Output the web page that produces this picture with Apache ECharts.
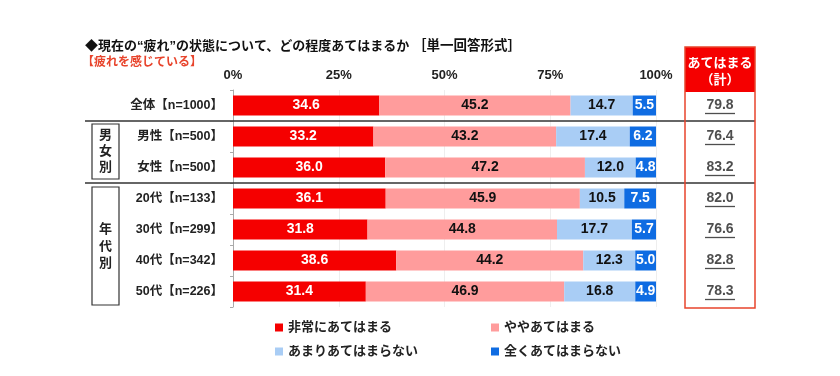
<!DOCTYPE html>
<html>
<head>
<meta charset="utf-8">
<script src="https://cdn.jsdelivr.net/npm/echarts@6/dist/echarts.min.js"></script>
<style>
  html, body { margin: 0; padding: 0; background: #fff; }
  #chart { width: 840px; height: 376px; }
</style>
</head>
<body>
<div id="chart"></div>
<script>
// 回答者区分
const categories = ['全体【n=1000】', '男性【n=500】', '女性【n=500】', '20代【n=133】', '30代【n=299】', '40代【n=342】', '50代【n=226】'];
const seriesNames = ['非常にあてはまる', 'ややあてはまる', 'あまりあてはまらない', '全くあてはまらない'];
const veryMuch = [34.6, 33.2, 36.0, 36.1, 31.8, 38.6, 31.4];
const somewhat = [45.2, 43.2, 47.2, 45.9, 44.8, 44.2, 46.9];
const notMuch = [14.7, 17.4, 12.0, 10.5, 17.7, 12.3, 16.8];
const notAtAll = [5.5, 6.2, 4.8, 7.5, 5.7, 5.0, 4.9];
const totals = [79.8, 76.4, 83.2, 82.0, 76.6, 82.8, 78.3];
const xTicks = ['0%', '25%', '50%', '75%', '100%'];

const colors = ['#F50000', '#FF9C9C', '#A9CDF5', '#0F6CE2'];
const labelColors = ['#fff', '#111', '#111', '#fff'];
const FONT = 'Liberation Sans, "Noto Sans CJK JP", sans-serif';

const chart = echarts.init(document.getElementById('chart'));

const values = [veryMuch, somewhat, notMuch, notAtAll];
const barSeries = values.map((arr, i) => ({
  name: seriesNames[i],
  type: 'bar',
  stack: 'all',
  barWidth: 20,
  data: arr,
  itemStyle: { color: colors[i] },
  label: {
    show: true,
    position: 'inside',
    color: labelColors[i],
    fontSize: 14,
    fontWeight: 'bold',
    fontFamily: FONT,
    formatter: p => p.value.toFixed(1)
  },
  emphasis: { disabled: true }
}));

const legendPos = [[270, 316], [486, 316], [270, 340], [486, 340]];

const option = {
  animation: false,
  textStyle: { fontFamily: FONT },
  title: [
    { text: '◆現在の“疲れ”の状態について、どの程度あてはまるか', left: 80, top: 35,
      textStyle: { fontSize: 13, fontWeight: 'bold', color: '#111', fontFamily: FONT } },
    { text: '［単一回答形式］', left: 408, top: 35,
      textStyle: { fontSize: 13.5, fontWeight: 'bold', color: '#111', fontFamily: FONT } },
    { text: '【疲れを感じている】', left: 77, top: 52,
      textStyle: { fontSize: 12, fontWeight: 'bold', color: '#E8442C', fontFamily: FONT } }
  ],
  legend: seriesNames.map((n, i) => ({
    data: [n],
    left: legendPos[i][0],
    top: legendPos[i][1],
    itemWidth: 8,
    itemHeight: 8,
    icon: 'rect',
    selectedMode: false,
    textStyle: { fontSize: 13, fontWeight: 'bold', color: '#222', fontFamily: FONT }
  })),
  grid: [
    { left: 233, right: 184, top: 90, height: 217 },
    { left: 685, width: 70, top: 90, height: 217 }
  ],
  xAxis: [
    {
      type: 'value',
      position: 'top',
      min: 0,
      max: 100,
      interval: 25,
      axisLabel: {
        formatter: v => xTicks[v / 25],
        fontSize: 13,
        fontWeight: 'bold',
        color: '#222',
        margin: 8
      },
      axisLine: { show: false },
      axisTick: { show: false },
      splitLine: { show: true, lineStyle: { color: '#eeeeee' } }
    },
    { gridIndex: 1, type: 'value', min: -1, max: 1, show: false }
  ],
  yAxis: [
    {
      type: 'category',
      data: categories,
      inverse: true,
      axisLine: { show: true, lineStyle: { color: '#aaaaaa' } },
      axisTick: { show: true, length: 3, lineStyle: { color: '#aaaaaa' } },
      axisLabel: { fontSize: 12.5, fontWeight: 'bold', color: '#222', margin: 10 }
    },
    { gridIndex: 1, type: 'category', data: categories, inverse: true, show: false }
  ],
  series: [
    ...barSeries,
    {
      type: 'scatter',
      xAxisIndex: 1,
      yAxisIndex: 1,
      symbolSize: 1,
      itemStyle: { color: 'rgba(0,0,0,0)' },
      data: totals.map((t, i) => [0, categories[i], t]),
      label: {
        show: true,
        position: 'inside',
        color: '#222',
        fontSize: 14,
        fontWeight: 'bold',
        formatter: p => p.value[2].toFixed(1)
      },
      silent: true
    },
    {
      type: 'scatter',
      xAxisIndex: 1,
      yAxisIndex: 1,
      symbol: 'rect',
      symbolSize: [30, 1.3],
      symbolOffset: [0, 8],
      itemStyle: { color: '#222' },
      data: totals.map((t, i) => [0, categories[i], t]),
      silent: true
    }
  ],
  graphic: [
    // 区分の区切り線
    { type: 'line', shape: { x1: 85, y1: 121, x2: 755, y2: 121 }, style: { stroke: '#333', lineWidth: 1.5 }, z: 10 },
    { type: 'line', shape: { x1: 85, y1: 183, x2: 755, y2: 183 }, style: { stroke: '#333', lineWidth: 1.5 }, z: 10 },
    // 男女別・年代別の枠
    { type: 'rect', shape: { x: 92, y: 124, width: 27, height: 55 }, style: { fill: '#fff', stroke: '#333', lineWidth: 1.2 } },
    { type: 'text', x: 105.5, y: 151, style: { text: '男\n女\n別', fontSize: 13, fontWeight: 'bold', fill: '#222', align: 'center', verticalAlign: 'middle', lineHeight: 16, fontFamily: FONT } },
    { type: 'rect', shape: { x: 92, y: 187, width: 27, height: 118 }, style: { fill: '#fff', stroke: '#333', lineWidth: 1.2 } },
    { type: 'text', x: 105.5, y: 246, style: { text: '年\n代\n別', fontSize: 13, fontWeight: 'bold', fill: '#222', align: 'center', verticalAlign: 'middle', lineHeight: 17, fontFamily: FONT } },
    // あてはまる（計）の枠
    { type: 'rect', shape: { x: 685, y: 47, width: 70, height: 45 }, style: { fill: '#F50000' } },
    { type: 'text', x: 720, y: 63, style: { text: 'あてはまる', fontSize: 13, fontWeight: 'bold', fill: '#fff', align: 'center', verticalAlign: 'middle', fontFamily: FONT } },
    { type: 'text', x: 720, y: 80, style: { text: '（計）', fontSize: 13, fontWeight: 'bold', fill: '#fff', align: 'center', verticalAlign: 'middle', fontFamily: FONT } },
    { type: 'rect', shape: { x: 685, y: 47, width: 70, height: 261 }, style: { fill: 'none', stroke: '#E8442C', lineWidth: 1.5 }, z: 11 }
  ]
};

chart.setOption(option);
</script>
</body>
</html>
